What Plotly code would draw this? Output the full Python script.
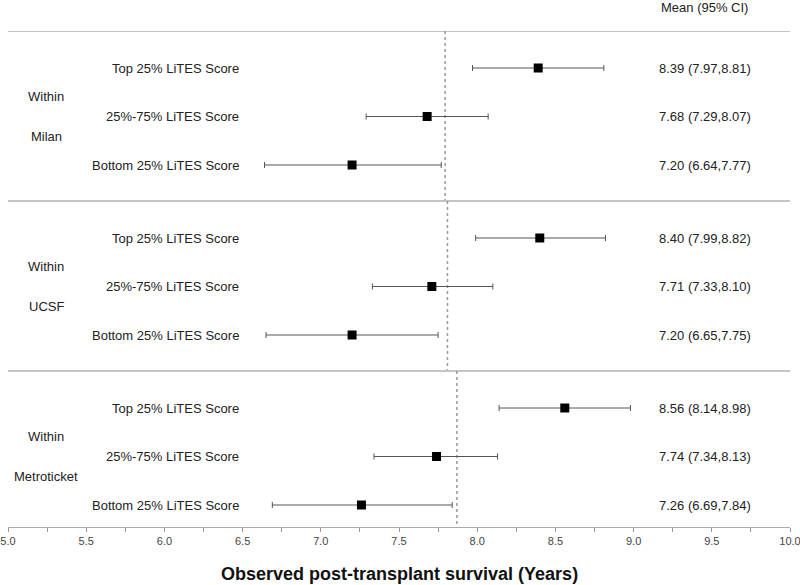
import plotly.graph_objects as go

groups = ["Milan", "UCSF", "Metroticket"]
row_labels = ["Top 25% LiTES Score", "25%-75% LiTES Score", "Bottom 25% LiTES Score"]
milan_mean = [8.39, 7.68, 7.20]
milan_lo = [7.97, 7.29, 6.64]
milan_hi = [8.81, 8.07, 7.77]
ucsf_mean = [8.40, 7.71, 7.20]
ucsf_lo = [7.99, 7.33, 6.65]
ucsf_hi = [8.82, 8.10, 7.75]
metro_mean = [8.56, 7.74, 7.26]
metro_lo = [8.14, 7.34, 6.69]
metro_hi = [8.98, 8.13, 7.84]
ref_lines = [7.795, 7.81, 7.87]
x_ticks = [5.0, 5.5, 6.0, 6.5, 7.0, 7.5, 8.0, 8.5, 9.0, 9.5, 10.0]

means = [milan_mean, ucsf_mean, metro_mean]
los = [milan_lo, ucsf_lo, metro_lo]
his = [milan_hi, ucsf_hi, metro_hi]

PANEL_H = 170
ROW0 = 37
ROW_STEP = 48.5
Y_MAX = 496

FONT = "Liberation Sans, Arial, sans-serif"
TXT = "#222222"

fig = go.Figure()
annotations = []
shapes = []

for p, g in enumerate(groups):
    ys = [p * PANEL_H + ROW0 + r * ROW_STEP for r in range(3)]
    m = means[p]
    lo = los[p]
    hi = his[p]
    fig.add_trace(go.Scatter(
        x=m, y=ys, mode="markers",
        marker=dict(symbol="square", size=9, color="black"),
        error_x=dict(type="data", symmetric=False,
                     array=[h - v for h, v in zip(hi, m)],
                     arrayminus=[v - l for v, l in zip(m, lo)],
                     color="#555555", thickness=1, width=3),
        showlegend=False, hoverinfo="skip", cliponaxis=False,
    ))
    for r in range(3):
        annotations.append(dict(x=6.488, y=ys[r], xref="x", yref="y", text=row_labels[r],
                                showarrow=False, xanchor="right", yanchor="middle",
                                font=dict(family=FONT, size=13, color=TXT)))
        annotations.append(dict(x=9.15, y=ys[r], xref="x", yref="y",
                                text=f"{m[r]:.2f} ({lo[r]:.2f},{hi[r]:.2f})",
                                showarrow=False, xanchor="left", yanchor="middle",
                                font=dict(family=FONT, size=13, color=TXT)))
    annotations.append(dict(x=5.246, y=p * PANEL_H + 65, xref="x", yref="y", text="Within",
                            showarrow=False, xanchor="center", yanchor="middle",
                            font=dict(family=FONT, size=13, color=TXT)))
    annotations.append(dict(x=5.246, y=p * PANEL_H + 105.5, xref="x", yref="y", text=g,
                            showarrow=False, xanchor="center", yanchor="middle",
                            font=dict(family=FONT, size=13, color=TXT)))
    shapes.append(dict(type="line", xref="x", yref="y", x0=5.0, x1=10.0,
                       y0=p * PANEL_H, y1=p * PANEL_H,
                       line=dict(color="#c4c4c4", width=2), layer="below"))
    y_end = (p + 1) * PANEL_H if p < len(groups) - 1 else Y_MAX
    shapes.append(dict(type="line", xref="x", yref="y", x0=ref_lines[p], x1=ref_lines[p],
                       y0=p * PANEL_H, y1=y_end,
                       line=dict(color="#9a9a9a", width=1.5, dash="3px,3px"), layer="below"))

annotations.append(dict(x=9.165, y=1 + 23 / Y_MAX, xref="x", yref="paper", text="Mean (95% CI)",
                        showarrow=False, xanchor="left", yanchor="middle",
                        font=dict(family=FONT, size=13, color=TXT)))
annotations.append(dict(x=0.5, y=-47 / Y_MAX, xref="paper", yref="paper",
                        text="<b>Observed post-transplant survival (Years)</b>",
                        showarrow=False, xanchor="center", yanchor="middle",
                        font=dict(family=FONT, size=18, color="#111111")))

fig.update_layout(
    width=800, height=585,
    margin=dict(l=8, r=10, t=31, b=58, autoexpand=False),
    paper_bgcolor="white", plot_bgcolor="white",
    annotations=annotations, shapes=shapes,
    hovermode=False,
    xaxis=dict(range=[5.0, 10.0], tickvals=x_ticks, ticktext=[f"{t:.1f}" for t in x_ticks],
               ticks="outside", ticklen=4, tickcolor="#999999",
               minor=dict(dtick=0.25, tick0=5.0, ticks="outside", ticklen=4, tickcolor="#999999"),
               showline=True, linecolor="#aaaaaa", linewidth=1,
               showgrid=False, zeroline=False, automargin=False,
               ticklabeloverflow="allow",
               tickfont=dict(family=FONT, size=11, color="#444444")),
    yaxis=dict(range=[Y_MAX, 0], visible=False, showgrid=False, zeroline=False, automargin=False),
)

fig.write_html("out.html", config={"displayModeBar": False, "staticPlot": True},
               post_script="document.body.style.margin='0';")
